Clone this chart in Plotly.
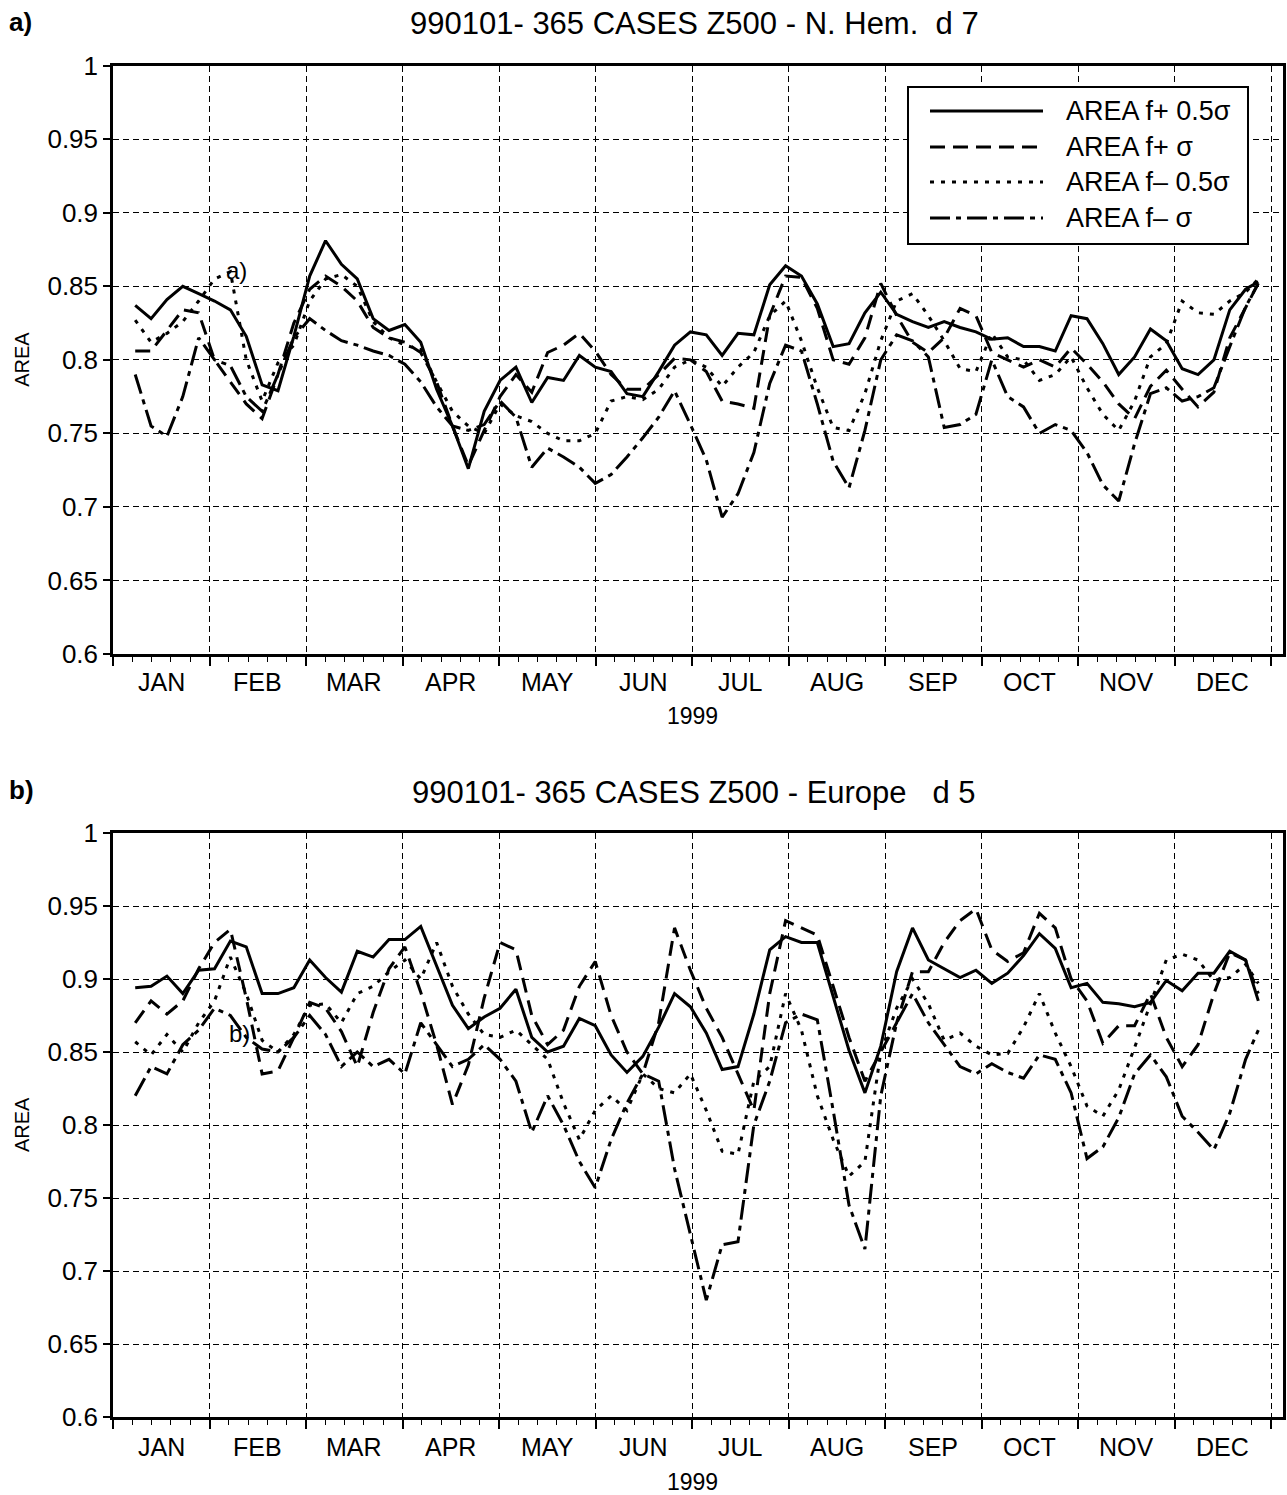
import plotly.graph_objects as go

# ---------------------------------------------------------------- data
# day of year of each sample (5-day spacing)
days = list(range(7, 358, 5)) + [361]

month_names = ["JAN", "FEB", "MAR", "APR", "MAY", "JUN",
               "JUL", "AUG", "SEP", "OCT", "NOV", "DEC"]
year_label = "1999"
y_tick_vals = [0.6, 0.65, 0.7, 0.75, 0.8, 0.85, 0.9, 0.95, 1.0]
y_tick_text = ["0.6", "0.65", "0.7", "0.75", "0.8", "0.85", "0.9", "0.95", "1"]
series_names = ["AREA f+ 0.5σ", "AREA f+ σ", "AREA f– 0.5σ", "AREA f– σ"]

# a) Northern Hemisphere, day 7
nh_plus_half = [
    .837, .828, .841, .850, .845, .840, .834, .816, .783, .779, .816, .857,
    .881, .865, .855, .828, .820, .824, .812, .780, .755, .726, .765, .786,
    .795, .771, .788, .786, .803, .795, .792, .777, .775, .792, .810, .819,
    .817, .803, .818, .817, .851, .864, .857, .838, .809, .811, .832, .846,
    .831, .826, .822, .826, .822, .819, .814, .815, .809, .809, .806, .830,
    .828, .811, .790, .802, .821, .813, .794, .790, .800, .834, .848, .853]
nh_plus_one = [
    .806, .806, .820, .834, .832, .800, .785, .770, .760, .790, .825, .848,
    .857, .850, .840, .822, .815, .812, .805, .785, .755, .728, .752, .775,
    .790, .778, .805, .810, .818, .806, .790, .780, .780, .790, .801, .800,
    .792, .772, .770, .767, .830, .857, .856, .835, .800, .797, .815, .852,
    .830, .812, .805, .815, .835, .830, .805, .800, .795, .800, .795, .808,
    .797, .785, .770, .760, .782, .793, .780, .768, .778, .815, .835, .852]
nh_minus_half = [
    .827, .812, .818, .826, .840, .855, .860, .800, .772, .798, .810, .840,
    .855, .858, .850, .826, .815, .810, .807, .785, .765, .755, .750, .770,
    .762, .758, .750, .745, .745, .750, .772, .775, .773, .780, .795, .800,
    .795, .782, .795, .805, .830, .840, .813, .781, .754, .752, .777, .813,
    .840, .845, .830, .813, .794, .792, .818, .802, .800, .786, .790, .802,
    .781, .763, .752, .772, .802, .811, .840, .832, .831, .840, .846, .855]
nh_minus_one = [
    .790, .755, .748, .775, .815, .800, .796, .775, .765, .790, .815, .828,
    .820, .813, .810, .806, .803, .797, .785, .768, .755, .752, .756, .772,
    .761, .727, .740, .734, .727, .716, .722, .734, .747, .761, .779, .756,
    .732, .693, .709, .737, .784, .810, .806, .770, .731, .713, .752, .800,
    .817, .813, .802, .754, .756, .763, .800, .775, .768, .750, .756, .752,
    .737, .715, .704, .743, .777, .781, .772, .775, .781, .809, .836, .852]

# b) Europe, day 5
eu_plus_half = [
    .894, .895, .902, .890, .906, .907, .926, .922, .890, .890, .894, .913,
    .901, .891, .919, .915, .927, .927, .936, .909, .882, .866, .874, .880,
    .893, .860, .850, .854, .873, .868, .848, .836, .847, .867, .890, .881,
    .863, .838, .840, .876, .920, .929, .925, .925, .888, .851, .822, .854,
    .905, .935, .913, .907, .901, .906, .897, .904, .916, .931, .921, .894,
    .897, .884, .883, .881, .884, .899, .892, .904, .904, .919, .913, .885]
eu_plus_one = [
    .870, .885, .876, .885, .907, .925, .934, .887, .835, .837, .860, .884,
    .880, .864, .840, .877, .907, .922, .891, .855, .814, .841, .887, .925,
    .920, .875, .855, .865, .895, .912, .875, .850, .835, .870, .935, .906,
    .880, .860, .835, .810, .890, .940, .935, .930, .895, .860, .830, .850,
    .870, .905, .905, .925, .940, .948, .920, .912, .918, .945, .935, .900,
    .885, .856, .868, .868, .890, .860, .840, .855, .890, .918, .913, .890]
eu_minus_half = [
    .857, .848, .862, .850, .870, .885, .915, .890, .858, .850, .862, .882,
    .883, .870, .890, .895, .905, .913, .900, .925, .895, .876, .862, .860,
    .865, .855, .845, .815, .790, .810, .820, .810, .835, .825, .822, .835,
    .810, .782, .780, .830, .840, .890, .865, .820, .790, .765, .775, .850,
    .880, .900, .883, .858, .863, .854, .848, .849, .867, .890, .863, .840,
    .813, .806, .824, .853, .883, .913, .917, .913, .899, .901, .910, .897]
eu_minus_one = [
    .820, .840, .835, .855, .865, .880, .875, .860, .852, .850, .860, .875,
    .862, .840, .850, .840, .845, .835, .870, .855, .840, .845, .855, .845,
    .830, .795, .820, .800, .775, .757, .790, .815, .835, .830, .770, .725,
    .680, .718, .720, .800, .830, .870, .876, .872, .810, .745, .715, .820,
    .870, .890, .870, .855, .840, .835, .842, .836, .832, .848, .845, .822,
    .777, .785, .805, .835, .848, .833, .806, .795, .783, .808, .845, .865]

panels = [
    {"title": "990101- 365 CASES Z500 - N. Hem.\u00a0\u00a0d 7", "tag": "a)",
     "series": [nh_plus_half, nh_plus_one, nh_minus_half, nh_minus_one],
     "inner_tag": (39, 0.861)},
    {"title": "990101- 365 CASES Z500 - Europe\u00a0\u00a0\u00a0d 5", "tag": "b)",
     "series": [eu_plus_half, eu_plus_one, eu_minus_half, eu_minus_one],
     "inner_tag": (40, 0.863)},
]

# ---------------------------------------------------------------- styling
W, H = 1287, 1495
FONT = "Liberation Sans, Arial, Helvetica, sans-serif"
DASHES = ["solid", "15px,8px", "4px,7px", "20px,6px,5px,6px"]
LINE_W = 3

PLOT_L, PLOT_R = 113, 1283      # pixel edges of the plot frames
YEAR_END_PX = 1271               # pixel of the last month boundary
FRAMES = [(65.7, 654.0), (833.0, 1417.0)]
MONTH_LABEL_Y = [682, 1447]
YEAR_LABEL_Y = [716, 1482]
TITLE_Y = [24, 792]

def fx(px):
    return px / W

def fy(py):
    return 1 - py / H

month_len = 365 / 12
x_max = 365 * (PLOT_R - PLOT_L) / (YEAR_END_PX - PLOT_L)
month_edges = [month_len * m for m in range(13)]
minor_ticks = [month_len / 5 * i for i in range(61) if i % 5]

fig = go.Figure()
annotations = []
shapes = []

for p, panel in enumerate(panels):
    xa = "x" if p == 0 else "x2"
    ya = "y" if p == 0 else "y2"
    for name, vals, dash in zip(series_names, panel["series"], DASHES):
        fig.add_trace(go.Scatter(
            x=days, y=vals, mode="lines", name=name, xaxis=xa, yaxis=ya,
            line=dict(color="black", width=LINE_W, dash=dash),
            showlegend=False, hoverinfo="skip"))

    top, bottom = FRAMES[p]
    axis_common = dict(showline=True, linecolor="black", linewidth=2.5,
                       mirror=True, showgrid=True, gridcolor="black",
                       gridwidth=1.3, griddash="6px,4px", zeroline=False,
                       automargin=False)
    xaxis = dict(axis_common, domain=[fx(PLOT_L), fx(PLOT_R)],
                 range=[0, x_max], tickmode="array", tickvals=month_edges,
                 ticks="outside", ticklen=9, tickwidth=1.5, tickcolor="black",
                 showticklabels=False,
                 minor=dict(tickmode="array", tickvals=minor_ticks,
                            ticks="outside", ticklen=5, tickwidth=1.2,
                            tickcolor="black", showgrid=False),
                 anchor=ya)
    yaxis = dict(axis_common, domain=[fy(bottom), fy(top)], range=[0.6, 1.0],
                 tickmode="array", tickvals=y_tick_vals, ticktext=y_tick_text,
                 ticks="outside", ticklen=7, tickwidth=1.5, tickcolor="black",
                 tickfont=dict(family=FONT, size=26, color="black"),
                 anchor=xa)
    fig.update_layout({("xaxis" if p == 0 else "xaxis2"): xaxis,
                       ("yaxis" if p == 0 else "yaxis2"): yaxis})

    # month names centred between the boundaries
    for m, mname in enumerate(month_names):
        annotations.append(dict(
            x=(m + 0.5) * month_len, xref=xa, y=fy(MONTH_LABEL_Y[p]),
            yref="paper", text=mname, showarrow=False,
            xanchor="center", yanchor="middle",
            font=dict(family=FONT, size=25, color="black")))
    annotations.append(dict(
        x=(PLOT_L + YEAR_END_PX) / 2 / W, xref="paper", y=fy(YEAR_LABEL_Y[p]),
        yref="paper", text=year_label, showarrow=False,
        xanchor="center", yanchor="middle",
        font=dict(family=FONT, size=23, color="black")))
    annotations.append(dict(
        x=fx(22), xref="paper", y=fy((top + bottom) / 2), yref="paper",
        text="AREA", textangle=-90, showarrow=False,
        xanchor="center", yanchor="middle",
        font=dict(family=FONT, size=20, color="black")))
    annotations.append(dict(
        x=fx(694), xref="paper", y=fy(TITLE_Y[p]), yref="paper",
        text=panel["title"], showarrow=False,
        xanchor="center", yanchor="middle",
        font=dict(family=FONT, size=31, color="black")))
    annotations.append(dict(
        x=fx(7), xref="paper", y=fy(TITLE_Y[p] - 2), yref="paper",
        text="<b>" + panel["tag"] + "</b>", showarrow=False,
        xanchor="left", yanchor="middle",
        font=dict(family=FONT, size=26, color="black")))
    tx, tv = panel["inner_tag"]
    annotations.append(dict(
        x=tx, xref=xa, y=tv, yref=ya, text=panel["tag"], showarrow=False,
        xanchor="center", yanchor="middle",
        font=dict(family=FONT, size=24, color="black")))

# legend box in the upper panel
LEG_L, LEG_R, LEG_T, LEG_B = 908, 1248, 87, 244
LEG_ROWS = [111, 147, 182, 218]
shapes.append(dict(type="rect", xref="paper", yref="paper",
                   x0=fx(LEG_L), x1=fx(LEG_R), y0=fy(LEG_B), y1=fy(LEG_T),
                   line=dict(color="black", width=2), fillcolor="white",
                   layer="above"))
for name, dash, row in zip(series_names, DASHES, LEG_ROWS):
    shapes.append(dict(type="line", xref="paper", yref="paper",
                       x0=fx(930), x1=fx(1043), y0=fy(row), y1=fy(row),
                       line=dict(color="black", width=3, dash=dash),
                       layer="above"))
    annotations.append(dict(
        x=fx(1064), xref="paper", y=fy(row), yref="paper", text=name,
        showarrow=False, xanchor="left", yanchor="middle",
        font=dict(family=FONT, size=27, color="black")))

fig.update_layout(
    template="none",
    width=W, height=H, margin=dict(l=0, r=0, t=0, b=0, autoexpand=False),
    paper_bgcolor="white", plot_bgcolor="white",
    font=dict(family=FONT, color="black"),
    annotations=annotations, shapes=shapes, showlegend=False)

fig.write_html("out.html")
